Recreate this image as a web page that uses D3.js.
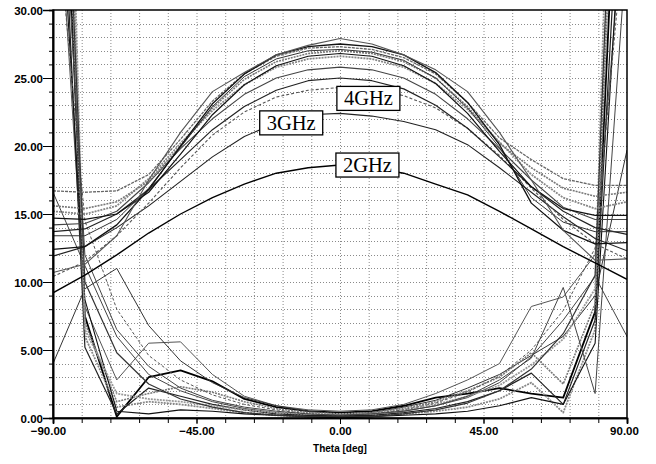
<!DOCTYPE html>
<html>
<head>
<meta charset="utf-8">
<script src="https://cdn.jsdelivr.net/npm/d3@7/dist/d3.min.js"></script>
<style>
  body { margin: 0; background: #fff; }
  svg { display: block; }
</style>
</head>
<body>
<svg id="chart" width="656" height="464"></svg>
<script>
// Sweep angle, degrees
const theta = [-90, -80, -70, -60, -50, -40, -30, -20, -10, 0, 10, 20, 30, 40, 50, 60, 70, 80, 90];

// Gain patterns (dome-shaped curves)
const gain2GHz = [9.2, 10.5, 12.0, 13.6, 15.0, 16.2, 17.2, 18.0, 18.4, 18.6, 18.4, 18.0, 17.2, 16.4, 15.2, 13.9, 12.6, 11.4, 10.2];
const gain3GHz = [11.9, 12.6, 14.0, 15.6, 17.4, 19.2, 20.7, 21.7, 22.3, 22.4, 22.2, 21.8, 21.2, 20.1, 18.4, 16.6, 14.8, 13.2, 12.3];
const gain4GHz = [10.4, 11.5, 13.4, 15.8, 18.4, 20.8, 22.5, 23.6, 24.1, 24.3, 24.2, 23.7, 22.8, 21.3, 19.3, 16.9, 14.6, 12.8, 11.7];
const gainHiA = [13.7, 13.9, 15.0, 16.8, 19.0, 21.2, 22.9, 24.1, 24.8, 25.0, 24.8, 24.2, 23.0, 21.3, 19.2, 17.0, 15.2, 14.0, 13.5];
const gainHiB = [14.2, 14.3, 15.2, 17.3, 19.8, 22.0, 23.8, 25.0, 25.6, 25.8, 25.6, 25.0, 23.8, 22.0, 19.8, 17.5, 15.5, 14.6, 14.6];
const gainHiC = [15.2, 15.0, 15.6, 17.6, 20.2, 22.6, 24.5, 25.8, 26.4, 26.6, 26.4, 25.8, 24.6, 22.7, 20.3, 17.9, 16.2, 15.4, 15.9];
const gainHiD = [14.7, 14.6, 15.0, 16.6, 19.4, 22.3, 24.5, 25.9, 26.6, 26.8, 26.6, 25.9, 24.6, 22.4, 19.6, 17.0, 15.4, 14.9, 14.9];
const gainHiE = [15.6, 15.4, 15.9, 17.4, 20.0, 22.8, 24.9, 26.2, 26.8, 27.0, 26.8, 26.2, 25.0, 22.9, 20.2, 18.4, 16.9, 16.3, 16.6];
const gainHiF = [13.4, 13.4, 14.6, 16.9, 19.9, 22.9, 25.1, 26.4, 27.0, 27.1, 26.9, 26.3, 25.0, 22.8, 19.9, 16.2, 14.4, 13.7, 13.7];
const gainHiG = [16.7, 16.6, 16.7, 17.9, 20.5, 23.3, 25.3, 26.6, 27.2, 27.3, 27.1, 26.5, 25.3, 23.2, 20.6, 19.0, 17.6, 17.1, 17.1];
const gainHiH = [12.4, 12.6, 14.2, 16.8, 20.0, 23.1, 25.3, 26.7, 27.3, 27.5, 27.3, 26.7, 25.4, 23.2, 20.1, 15.8, 13.8, 12.8, 12.9];
const gainHiI = [10.7, 11.3, 13.4, 17.5, 21.0, 24.0, 25.4, 26.7, 27.4, 27.9, 27.5, 26.7, 25.6, 24.0, 21.0, 17.5, 13.8, 11.6, 11.7];

// Axial-ratio style curves (U-shaped, rising steeply toward +/-90)
const arA = [62, 7.5, 0.1, 3.0, 3.5, 2.7, 1.4, 0.8, 0.5, 0.4, 0.5, 0.9, 1.5, 1.8, 2.2, 1.8, 1.5, 7.8, 58];
const arB = [45, 8.2, 2.8, 5.5, 5.6, 3.2, 1.6, 0.9, 0.6, 0.5, 0.6, 1.0, 1.8, 2.8, 4.0, 8.2, 8.9, 12.0, 40];
const arC = [4.0, 9.5, 11.0, 6.8, 4.2, 2.6, 1.5, 0.9, 0.5, 0.3, 0.4, 0.8, 1.3, 2.2, 3.2, 4.6, 6.0, 9.0, 19.7];
const arD = [16.6, 11.2, 6.0, 3.2, 2.0, 1.2, 0.7, 0.4, 0.2, 0.2, 0.3, 0.5, 0.9, 1.5, 2.6, 4.5, 7.2, 10.4, 6.0];
const arE = [70, 6.0, 0.8, 1.2, 1.0, 0.7, 0.4, 0.2, 0.1, 0.1, 0.2, 0.3, 0.5, 0.8, 1.4, 2.6, 0.4, 6.5, 75];
const arF = [55, 5.2, 0.3, 2.2, 1.6, 1.0, 0.6, 0.3, 0.2, 0.2, 0.2, 0.4, 0.7, 1.2, 2.0, 3.3, 1.0, 7.2, 50];
const arG = [80, 7.0, 1.2, 1.8, 2.3, 1.9, 1.2, 0.7, 0.4, 0.3, 0.4, 0.7, 1.2, 2.0, 3.0, 4.8, 2.5, 8.4, 65];
const arH = [48, 8.7, 0.5, 0.3, 0.6, 0.5, 0.3, 0.2, 0.1, 0.0, 0.1, 0.2, 0.3, 0.5, 0.9, 1.5, 1.0, 5.5, 45];
const arI = [90, 6.5, 1.8, 1.4, 1.2, 0.9, 0.6, 0.4, 0.3, 0.3, 0.3, 0.6, 1.0, 1.6, 2.4, 3.9, 5.8, 9.5, 85];
const arJ = [40, 14.5, 8.0, 4.6, 2.8, 1.7, 1.0, 0.6, 0.3, 0.2, 0.3, 0.6, 1.1, 1.9, 3.1, 5.0, 7.9, 12.5, 38];
const arK = [66, 10.0, 4.8, 2.5, 1.4, 0.8, 0.4, 0.2, 0.1, 0.1, 0.1, 0.3, 0.6, 1.1, 2.0, 3.6, 6.2, 10.5, 70];
const arL = [52, 12.0, 6.5, 3.8, 2.2, 1.3, 0.8, 0.5, 0.3, 0.2, 0.3, 0.5, 0.9, 1.6, 2.8, 4.4, 9.6, 1.8, 35];

// Axis ticks and grid
const xMajorTicks = [-90, -45, 0, 45, 90];
const xMinorTicks = [-90, -81, -72, -63, -54, -45, -36, -27, -18, -9, 0, 9, 18, 27, 36, 45, 54, 63, 72, 81, 90];
const yMajorTicks = [0, 5, 10, 15, 20, 25, 30];
const yMinorTicks = [0, 1, 2, 3, 4, 5, 6, 7, 8, 9, 10, 11, 12, 13, 14, 15, 16, 17, 18, 19, 20, 21, 22, 23, 24, 25, 26, 27, 28, 29, 30];

// Frequency annotations: text with anchor (theta, value)
const annoText = ["4GHz", "3GHz", "2GHz"];
const annoTheta = [8.9, -15.3, 8.6];
const annoValue = [23.5, 21.7, 18.6];

// Stroke styles for each curve: [colour, width, dash]
const gainSeries = [gain2GHz, gain3GHz, gain4GHz, gainHiA, gainHiB, gainHiC, gainHiD, gainHiE, gainHiF, gainHiG, gainHiH, gainHiI];
const gainStyles = [
  ["#000", 1.4, null], ["#222", 1.1, null], ["#555", 1.1, "3,2"], ["#222", 1.2, null],
  ["#444", 1.1, null], ["#888", 1.8, "2,1"], ["#111", 1.2, null], ["#777", 1.6, "2,1"],
  ["#333", 1.0, null], ["#666", 1.3, "3,1"], ["#111", 1.3, null], ["#555", 1.1, null]
];
const arSeries = [arA, arB, arC, arD, arE, arF, arG, arH, arI, arJ, arK, arL];
const arStyles = [
  ["#000", 1.8, null], ["#555", 1.0, null], ["#333", 1.0, null], ["#444", 1.0, null],
  ["#888", 1.8, "2,1"], ["#222", 1.2, null], ["#777", 1.6, "2,1"], ["#111", 1.1, null],
  ["#999", 1.8, "2,1"], ["#555", 1.0, "3,2"], ["#333", 1.2, null], ["#444", 1.0, null]
];

const svg = d3.select("#chart");
const margin = { left: 53, right: 29, top: 10, bottom: 46 };
const W = 656, H = 464;

const x = d3.scaleLinear().domain([-90, 90]).range([margin.left, W - margin.right]);
const y = d3.scaleLinear().domain([0, 30]).range([H - margin.bottom, margin.top]);

const font = "'Liberation Sans', Arial, sans-serif";

// dotted grid
const grid = svg.append("g").attr("stroke", "#8a8a8a").attr("stroke-width", 1).attr("stroke-dasharray", "1,2");
grid.selectAll(".gx").data(xMinorTicks.slice(1, -1)).join("line")
  .attr("x1", d => x(d) + 0.5).attr("x2", d => x(d) + 0.5)
  .attr("y1", y(30)).attr("y2", y(0));
grid.selectAll(".gy").data(yMinorTicks.slice(1, -1)).join("line")
  .attr("y1", d => Math.round(y(d)) + 0.5).attr("y2", d => Math.round(y(d)) + 0.5)
  .attr("x1", x(-90)).attr("x2", x(90));

// clip for curves
svg.append("clipPath").attr("id", "plotClip").append("rect")
  .attr("x", x(-90)).attr("y", y(30)).attr("width", x(90) - x(-90)).attr("height", y(0) - y(30));

const line = d3.line().x((d, i) => x(theta[i])).y(d => y(d)).curve(d3.curveLinear);

const curves = svg.append("g").attr("clip-path", "url(#plotClip)").attr("fill", "none")
  .attr("stroke-linejoin", "round");

function drawSet(series, styles) {
  curves.selectAll(null).data(series).join("path")
    .attr("d", d => line(d))
    .attr("stroke", (d, i) => styles[i][0])
    .attr("stroke-width", (d, i) => styles[i][1])
    .attr("stroke-dasharray", (d, i) => styles[i][2]);
}
drawSet(arSeries, arStyles);
drawSet(gainSeries, gainStyles);

// frame
svg.append("rect").attr("x", x(-90)).attr("y", y(30))
  .attr("width", x(90) - x(-90)).attr("height", y(0) - y(30))
  .attr("fill", "none").attr("stroke", "#000").attr("stroke-width", 1.5);

// y axis
const yAxis = svg.append("g").attr("transform", `translate(${x(-90)},0)`)
  .call(d3.axisLeft(y).tickValues(yMajorTicks).tickSize(10).tickFormat(d3.format(".2f")));
svg.append("g").attr("transform", `translate(${x(-90)},0)`)
  .call(d3.axisLeft(y).tickValues(yMinorTicks).tickSize(4).tickFormat(""));

// x axis
const xAxis = svg.append("g").attr("transform", `translate(0,${y(0)})`)
  .call(d3.axisBottom(x).tickValues(xMajorTicks).tickSize(6).tickFormat(d3.format(".2f")));
svg.append("g").attr("transform", `translate(0,${y(0)})`)
  .call(d3.axisBottom(x).tickValues(xMinorTicks).tickSize(5).tickFormat(""));

svg.selectAll(".domain").attr("stroke", "#000").attr("stroke-width", 1.6);
svg.selectAll(".tick line").attr("stroke", "#000").attr("stroke-width", 1);
yAxis.selectAll("text").attr("font-family", font).attr("font-weight", "bold")
  .attr("font-size", 11.5).attr("fill", "#000").attr("x", -10).attr("dy", "0.35em");
xAxis.selectAll("text").attr("font-family", font).attr("font-weight", "bold")
  .attr("font-size", 11.5).attr("fill", "#000").attr("y", 9).attr("dy", "0.71em")
  .attr("dx", d => d === -90 ? -5 : (d === 90 ? -3 : 0));

svg.append("text").attr("x", x(0)).attr("y", 452).attr("text-anchor", "middle")
  .attr("font-family", font).attr("font-weight", "bold").attr("font-size", 10)
  .attr("fill", "#000").text("Theta [deg]");

// boxed frequency labels
const ann = svg.append("g");
annoText.forEach((t, i) => {
  const cx = x(annoTheta[i]), cy = y(annoValue[i]);
  const g = ann.append("g");
  g.append("rect")
    .attr("x", cx - 31.5).attr("y", cy - 12)
    .attr("width", 63).attr("height", 24)
    .attr("fill", "#fff").attr("stroke", "#000").attr("stroke-width", 1.3);
  g.append("text").attr("x", cx).attr("y", cy).attr("text-anchor", "middle")
    .attr("dominant-baseline", "central")
    .attr("font-family", "'Liberation Serif', 'Times New Roman', serif")
    .attr("font-size", 20.5).attr("fill", "#000").text(t);
});
</script>
</body>
</html>
